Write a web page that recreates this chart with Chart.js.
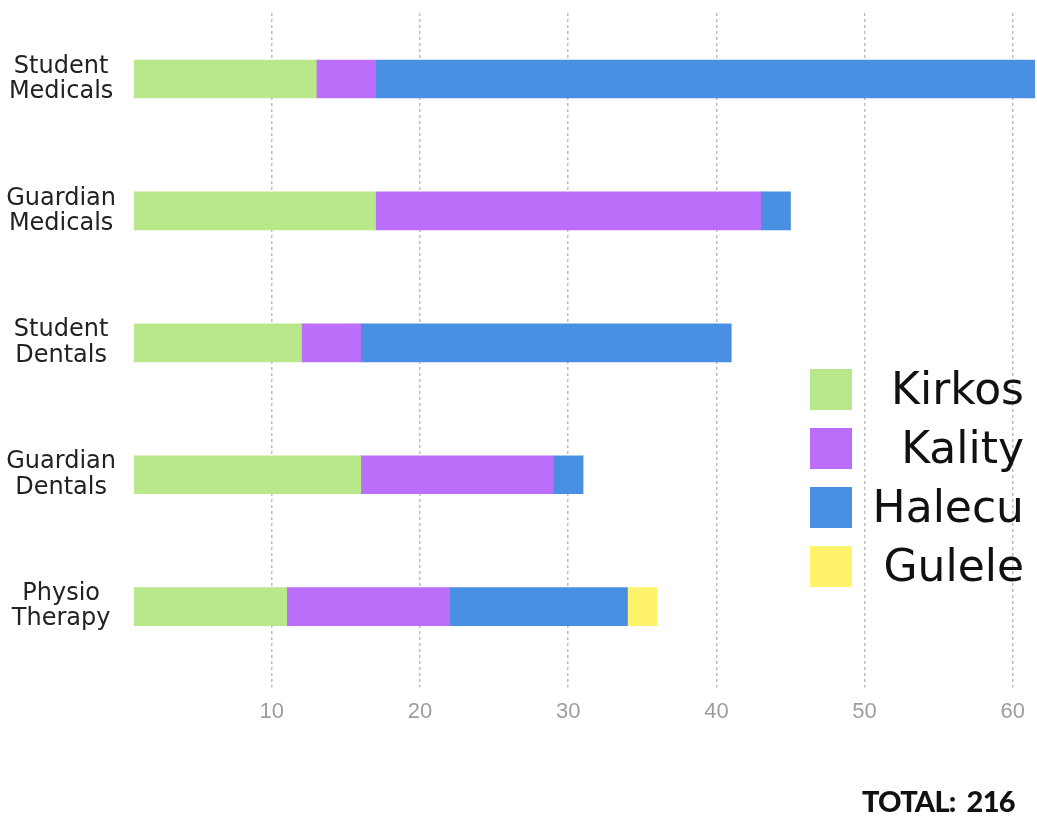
<!DOCTYPE html>
<html>
<head>
<meta charset="utf-8">
<script src="https://cdn.jsdelivr.net/npm/chart.js@4"></script>
<style>
  html, body { margin: 0; padding: 0; background: #fff; }
  #wrap { position: relative; width: 1037px; height: 825px; }
  #legend { position: absolute; left: 810px; top: 366px; width: 214px; font-family: "DejaVu Sans", sans-serif; }
  .item { position: relative; height: 59px; }
  .sw { position: absolute; left: 0; top: 3px; width: 42px; height: 41px; }
  .lbl { position: absolute; right: 0; top: -5px; font-size: 44px; line-height: 56px; color: #111; white-space: nowrap; }
  #total { position: absolute; left: 862px; top: 783px; font-family: "Lato", sans-serif; font-weight: 900; font-size: 29px; color: #111; letter-spacing: -0.8px; word-spacing: 5px; }
</style>
</head>
<body>
<div id="wrap">
  <canvas id="c" width="1037" height="825"></canvas>
  <div id="legend"></div>
  <div id="total"></div>
</div>
<script>
const categories = [["Student", "Medicals"], ["Guardian", "Medicals"], ["Student", "Dentals"], ["Guardian", "Dentals"], ["Physio", "Therapy"]];
const seriesNames = ["Kirkos", "Kality", "Halecu", "Gulele"];
const kirkos = [13, 17, 12, 16, 11];
const kality = [4, 26, 4, 13, 11];
const halecu = [46, 2, 25, 2, 12];
const gulele = [0, 0, 0, 0, 2];
const xTicks = [10, 20, 30, 40, 50, 60];
const totalLabel = "TOTAL:";
const totalValue = 216;

const colors = ["#b9e88a", "#bb6ef9", "#4a90e2", "#fff36b"];
const seriesData = [kirkos, kality, halecu, gulele];

const datasets = seriesNames.map((n, i) => ({
  label: n,
  data: seriesData[i],
  backgroundColor: colors[i],
  borderWidth: 0,
  barThickness: 38
}));

new Chart(document.getElementById("c"), {
  type: "bar",
  data: { labels: categories, datasets },
  options: {
    indexAxis: "y",
    responsive: false,
    animation: false,
    layout: { padding: { top: 13, right: 2, bottom: 89, left: 0 } },
    plugins: { legend: { display: false }, tooltip: { enabled: false } },
    scales: {
      x: {
        stacked: true,
        min: 0.7,
        max: 61.5,
        afterBuildTicks: (s) => { s.ticks = xTicks.map(v => ({ value: v })); },
        afterFit: (s) => { s.paddingLeft = 0; s.paddingRight = 0; },
        border: { display: false, dash: [3, 3] },
        grid: { color: "#bdbdbd", lineWidth: 1.5, tickLength: 15, drawTicks: true, tickColor: "#bdbdbd", tickBorderDash: [3, 3] },
        ticks: { color: "#9e9e9e", padding: 11, font: { family: "Liberation Sans", size: 22 } }
      },
      y: {
        stacked: true,
        border: { display: false },
        grid: { display: false },
        afterFit: (s) => { s.width = 134; s.paddingTop = 0; s.paddingBottom = 0; },
        ticks: { color: "#222", crossAlign: "center", padding: 10, font: { family: "DejaVu Sans", size: 24, lineHeight: 1.05 } }
      }
    }
  }
});

const leg = document.getElementById("legend");
seriesNames.forEach((n, i) => {
  const d = document.createElement("div");
  d.className = "item";
  d.innerHTML = '<div class="sw" style="background:' + colors[i] + '"></div><div class="lbl">' + n + '</div>';
  leg.appendChild(d);
});
document.getElementById("total").textContent = totalLabel + " " + totalValue;
</script>
</body>
</html>
